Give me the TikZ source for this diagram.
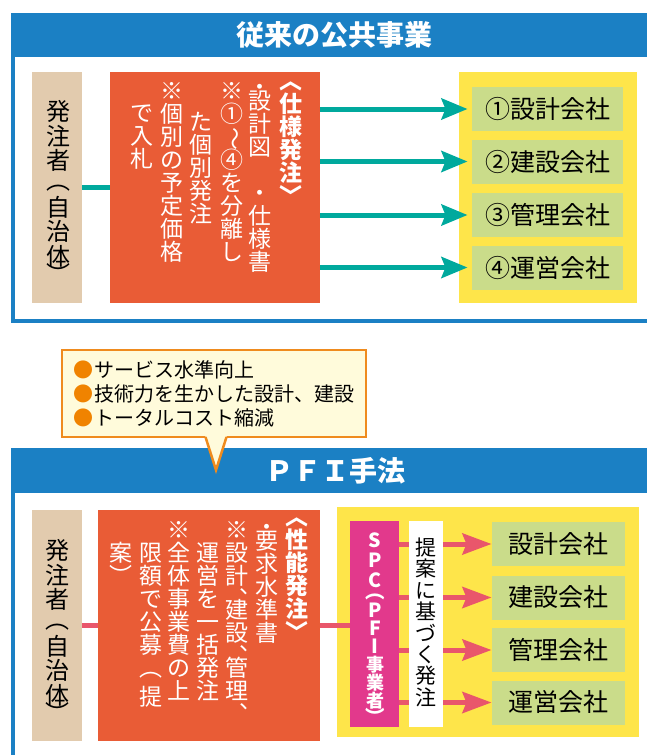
\documentclass[tikz,border=0pt]{standalone}
\usepackage{graphicx}
\usepackage{fontspec}
\setmainfont{Noto Sans CJK JP}
\newfontfamily\jp{Noto Sans CJK JP}
\newcommand\fst{\rule{0pt}{1em}}
\newcommand\tightls{\lineskiplimit=-1000pt\relax\lineskip=0pt\relax}
\newcommand\vwave{\rotatebox[origin=c]{-90}{〜}}
\newcommand\sk[1]{{\fontsize{18}{18}\selectfont #1}}
\usetikzlibrary{arrows.meta}
\definecolor{hdrblue}{HTML}{1B80C4}
\definecolor{beige}{HTML}{E2CBAE}
\definecolor{orng}{HTML}{E95C36}
\definecolor{tealc}{HTML}{00A99D}
\definecolor{yel}{HTML}{FEE54A}
\definecolor{grn}{HTML}{CADC8A}
\definecolor{pinkc}{HTML}{E9566B}
\definecolor{mag}{HTML}{E2398C}
\definecolor{callfill}{HTML}{FFFBDB}
\definecolor{callline}{HTML}{EF8B1E}
\definecolor{bul}{HTML}{F08300}
\begin{document}
\begin{tikzpicture}[x=1pt,y=-1pt,
  flat/.style={inner sep=0,outer sep=0},
  vstack/.style={inner sep=0,outer sep=0,align=center,anchor=north},
  v23/.style={vstack,text=white,font=\jp\fontsize{23}{23}\selectfont\tightls},
  v23b/.style={vstack,text=white,font=\jp\fontsize{23}{23}\selectfont\bfseries\tightls},
  v24/.style={vstack,font=\jp\fontsize{24}{24.5}\selectfont\tightls},
  gbox/.style={flat,fill=grn,font=\jp\fontsize{25}{25}\selectfont},
  title/.style={text=white,font=\jp\fontsize{28}{28}\selectfont\bfseries},
  tarrow/.style={tealc,line width=5,-{Stealth[length=26pt,width=21pt,inset=4pt]},shorten >=4.5pt},
  parrow/.style={pinkc,line width=5,-{Stealth[length=29pt,width=21pt,inset=4pt]},shorten >=0.5pt}
]
\useasboundingbox (0,0) rectangle (647,755);
\clip (0,0) rectangle (647,755);

% ===== top frame =====
\draw[hdrblue,line width=4] (13,57) |- (660,321);
\fill[hdrblue] (11,12.5) rectangle (660,57);
\node[title] (t1) at (334,35) {従来の公共事業};

\node[flat,fill=beige,minimum width=50,minimum height=231] (c1) at (57,187.5) {};
\node[flat,fill=orng,minimum width=210,minimum height=231] (o1) at (215,187.5) {};
\node[flat,fill=yel,minimum width=178,minimum height=231] (y1) at (548,187.5) {};
\node[gbox,minimum width=151,minimum height=44] (g1) at (547.5,109) {①設計会社};
\node[gbox,minimum width=151,minimum height=44] (g2) at (547.5,161.5) {②建設会社};
\node[gbox,minimum width=151,minimum height=44] (g3) at (547.5,215) {③管理会社};
\node[gbox,minimum width=151,minimum height=44] (g4) at (547.5,267.5) {④運営会社};

\node[v24] (c1t) at (58,96.1)
  {\fst 発\\[0.5pt]注\\者\\[-4.5pt]︵\\[2pt]自\\治\\体\\[-6.2pt]︶};

\node[v23b] (a1) at (291,66.2) {\fst ︿\\仕\\様\\発\\注\\﹀};
\node[v23] (a2) at (260,75.2)
  {\fst\raisebox{3pt}{・}\\[-11.5pt]設\\計\\図\\　\\・\\仕\\様\\書};
\node[v23] (a3) at (232,76.2)
  {\fst ※\\①\\\vwave\\④\\を\\分\\離\\し};
\node[v23] (a4) at (201,107.7) {\fst た\\個\\別\\発\\注};
\node[v23] (a5) at (172,76.2) {\fst ※\\個\\別\\の\\予\\定\\価\\格};
\node[v23] (a6) at (142,98.7) {\fst で\\入\\札};

\draw[tealc,line width=4.5] (c1.east) -- (o1.west);
\foreach \g in {g1,g2,g3,g4}{
  \draw[tarrow] (o1.east |- \g.west) -- (\g.west);
}

% ===== bottom frame =====
\fill[hdrblue] (11,448) rectangle (660,493);
\draw[hdrblue,line width=4] (13,493) -- (13,760);
\node[title] (t2) at (335,471) {ＰＦＩ手法};

% callout
\node[flat,draw=callline,line width=2.5,fill=callfill,text width=282,align=left,
  inner xsep=11,minimum height=87,font=\jp\fontsize{20}{24}\selectfont] (call) at (214,393.5)
  {\textcolor{bul}{●}\hspace{1.5pt}サービス水準向上\\
   \textcolor{bul}{●}\hspace{1.5pt}技術力を生かした設計、建設\\
   \textcolor{bul}{●}\hspace{1.5pt}トータルコスト縮減};
\fill[callfill] (205,435) -- (216,470) -- (227,435) -- cycle;
\draw[callline,line width=2.5,line join=miter] (205.5,437) -- (216,470) -- (226.5,437);

\node[flat,fill=beige,minimum width=50,minimum height=231] (c2) at (57,625.5) {};
\node[flat,fill=orng,minimum width=222,minimum height=231] (o2) at (209,625.5) {};
\node[flat,fill=yel,minimum width=302,minimum height=230] (y2) at (488,622) {};
\node[flat,fill=mag,minimum width=49,minimum height=206] (spc) at (374.5,624) {};
\node[gbox,minimum width=133,minimum height=44] (h1) at (558.5,544) {設計会社};
\node[gbox,minimum width=133,minimum height=44] (h2) at (558.5,597.5) {建設会社};
\node[gbox,minimum width=133,minimum height=44] (h3) at (558.5,650) {管理会社};
\node[gbox,minimum width=133,minimum height=44] (h4) at (558.5,702.5) {運営会社};

\node[v24] (c2t) at (57,535.1)
  {\fst 発\\[0.5pt]注\\者\\[-4.5pt]︵\\[2pt]自\\治\\体\\[-6.2pt]︶};

\node[v23b] (b1) at (297,502.7) {\fst ︿\\性\\能\\発\\注\\﹀};
\node[v23] (b2) at (267,515.2) {\fst\raisebox{3pt}{・}\\[-11.5pt]要\\求\\水\\準\\書};
\node[v23] (b3) at (237,515.2)
  {\fst ※\\設\\計\\︑\\[-11.5pt]建\\設\\︑\\[-11.5pt]管\\理\\︑};
\node[v23] (b4) at (208,538.7) {\fst 運\\営\\を\\一\\括\\発\\注};
\node[v23] (b5) at (179,515.7) {\fst ※\\全\\体\\事\\業\\費\\の\\上};
\node[v23] (b6) at (151,538.7) {\fst 限\\額\\で\\公\\募\\︵\\[6pt]提};
\node[v23] (b7) at (121,538.7) {\fst 案\\︶};

\node[vstack,text=white,font=\jp\fontsize{19.5}{19.5}\selectfont\bfseries\tightls] (spct) at (375,528.2)
  {\fst S\\[0.5pt]P\\[0.5pt]C\\[-9pt]︵\\P\\[-1.5pt]F\\[-2pt]I\\[-1.6pt]\sk{事}\\[-1.5pt]\sk{業}\\[-1.5pt]\sk{者}\\[-1.7pt]︶};

\draw[pinkc,line width=4.5] (c2.east) -- (o2.west);
\draw[pinkc,line width=4.5] (o2.east) -- (o2.east -| spc.west);
\foreach \g in {h1,h2,h3,h4}{
  \draw[parrow] (spc.east |- \g.west) -- (\g.west);
}
\node[flat,fill=white,minimum width=34,minimum height=206] (wb) at (426,624) {};
\node[vstack,font=\jp\fontsize{21}{21.4}\selectfont\tightls] (wbt) at (426,534.5)
  {\fst 提\\案\\に\\基\\づ\\く\\発\\注};
\end{tikzpicture}
\end{document}
